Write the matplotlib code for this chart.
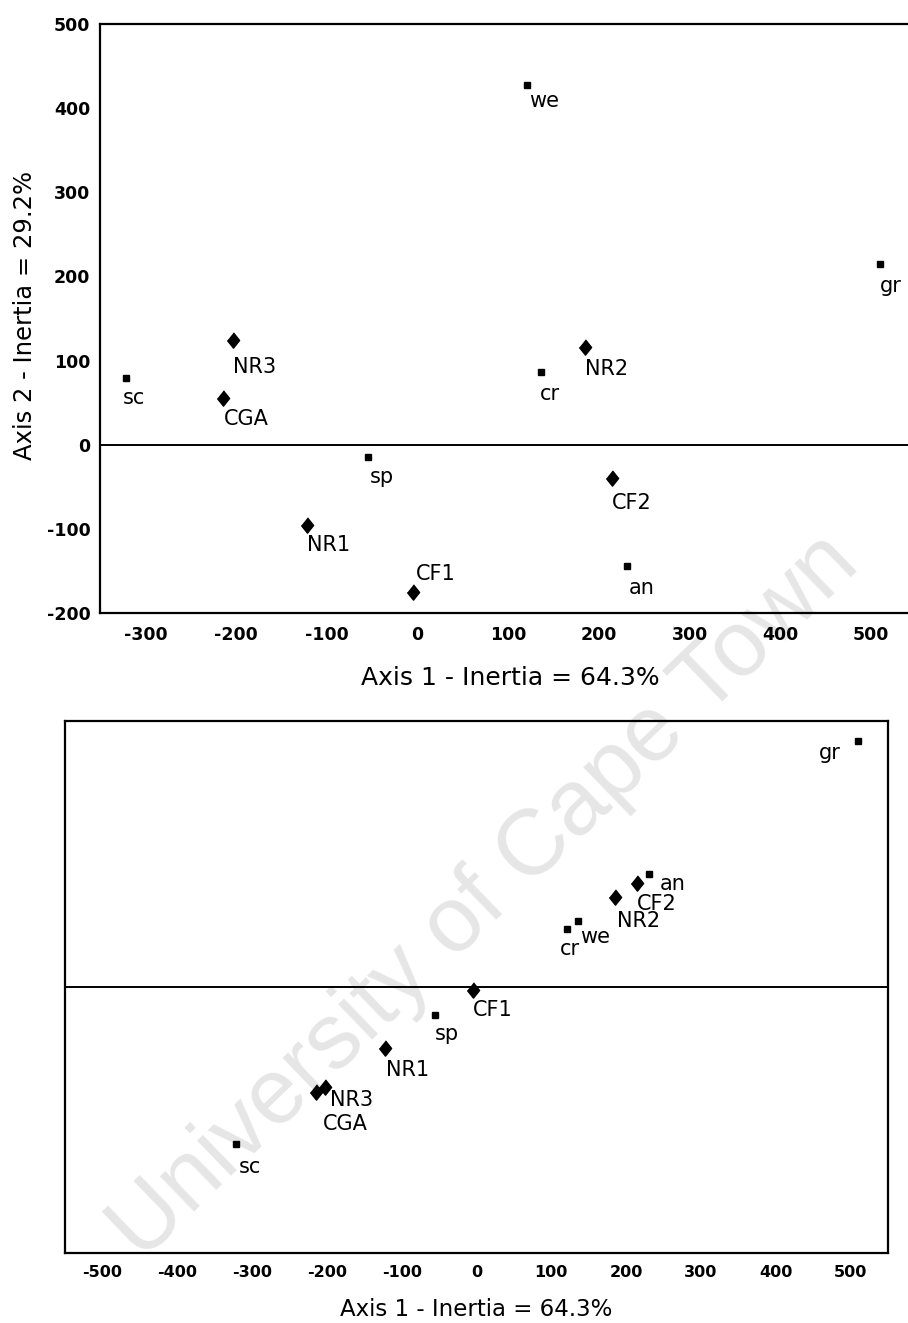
import matplotlib.pyplot as plt

# correspondence analysis scores: sites (diamonds) and species (squares)
sites = ['NR3', 'CGA', 'NR1', 'CF1', 'NR2', 'CF2']
site_ax1 = [-203, -214, -122, -5, 185, 214]
site_ax2 = [124, 55, -96, -175, 116, -39]
site_ax3 = [-133, -140, -81, -4, 120, 139]

species = ['sc', 'sp', 'cr', 'we', 'an', 'gr']
spec_ax1 = [-321, -55, 136, 121, 231, 510]
spec_ax2 = [79, -15, 87, 427, -144, 215]
spec_ax3 = [-209, -37, 88, 77, 151, 328]

top_ticks = [-300, -200, -100, 0, 100, 200, 300, 400, 500]
top_yticks = [-200, -100, 0, 100, 200, 300, 400, 500]
bot_ticks = [-500, -400, -300, -200, -100, 0, 100, 200, 300, 400, 500]

# label offsets in pixels (dx, dy, ha)
top_off = {'NR3': (0, -27, 'left'), 'CGA': (0, -21, 'left'), 'NR1': (0, -20, 'left'),
           'CF1': (3, 18, 'left'), 'NR2': (0, -22, 'left'), 'CF2': (0, -25, 'left'),
           'sc': (-3, -20, 'left'), 'sp': (2, -20, 'left'), 'cr': (-1, -22, 'left'),
           'we': (2, -16, 'left'), 'an': (2, -22, 'left'), 'gr': (0, -22, 'left')}
bot_off = {'NR3': (5, -13, 'left'), 'CGA': (6, -32, 'left'), 'NR1': (1, -22, 'left'),
           'CF1': (0, -20, 'left'), 'NR2': (2, -24, 'left'), 'CF2': (0, -21, 'left'),
           'sc': (2, -23, 'left'), 'sp': (-1, -19, 'left'), 'cr': (-18, -28, 'left'),
           'we': (13, -8, 'left'), 'an': (10, -10, 'left'), 'gr': (-17, -12, 'right')}

plt.rcParams['font.family'] = ['DejaVu Sans']
plt.rcParams['axes.unicode_minus'] = False

W, H = 908, 1323
fig = plt.figure(figsize=(W / 100, H / 100), dpi=100)

diamond = [(0, 1), (0.8, 0), (0, -1), (-0.8, 0)]


def panel(ax, xs, ys, xs2, ys2, offs, fs):
    ax.axhline(0, color='black', lw=1.4, zorder=1)
    ax.plot(xs, ys, ls='none', marker=diamond, ms=11, color='black', zorder=3)
    ax.plot(xs2, ys2, ls='none', marker='s', ms=4, color='black', zorder=3)
    for names, px, py in ((sites, xs, ys), (species, xs2, ys2)):
        for n, x, y in zip(names, px, py):
            dx, dy, ha = offs[n]
            ax.annotate(n, (x, y), xytext=(dx, dy), textcoords='offset pixels',
                        ha=ha, va='center', fontsize=fs)
    ax.set_facecolor('none')
    for s in ax.spines.values():
        s.set_linewidth(1.6)


# top panel: axis 1 vs axis 2
ax1 = fig.add_axes([100 / W, 1 - 613 / H, 812 / W, 589 / H])
panel(ax1, site_ax1, site_ax2, spec_ax1, spec_ax2, top_off, 15)
ax1.set_xlim(-350, 545)
ax1.set_ylim(-200, 500)
ax1.set_xticks(top_ticks)
ax1.set_yticks(top_yticks)
ax1.tick_params(length=0, labelsize=12.5)
ax1.tick_params(axis='x', pad=9)
ax1.tick_params(axis='y', pad=7)
for t in ax1.get_xticklabels() + ax1.get_yticklabels():
    t.set_fontweight('bold')
ax1.set_xlabel('Axis 1 - Inertia = 64.3%', fontsize=18, va='center')
ax1.xaxis.set_label_coords(0.505, -0.110)
ax1.set_ylabel('Axis 2 - Inertia = 29.2%', fontsize=17.5, va='center')
ax1.yaxis.set_label_coords(-0.092, 0.506)

# bottom panel: axis 1 vs axis 3
ax2 = fig.add_axes([65 / W, 1 - 1253 / H, 823 / W, 532 / H])
panel(ax2, site_ax1, site_ax3, spec_ax1, spec_ax3, bot_off, 15)
ax2.set_xlim(-550, 550)
ax2.set_ylim(-355, 355)
ax2.set_xticks(bot_ticks)
ax2.set_yticks([])
ax2.tick_params(length=0, labelsize=11.5, pad=8.5)
for t in ax2.get_xticklabels():
    t.set_fontweight('bold')
ax2.set_xlabel('Axis 1 - Inertia = 64.3%', fontsize=16.5, va='center')
ax2.xaxis.set_label_coords(0.5, -0.107)

fig.text(485 / W, 1 - 897 / H, 'University of Cape Town', rotation=44,
         ha='center', va='center', fontsize=67, color='#e6e6e6',
         family='Liberation Sans', zorder=-1)

fig.savefig('out.png', dpi=100)
